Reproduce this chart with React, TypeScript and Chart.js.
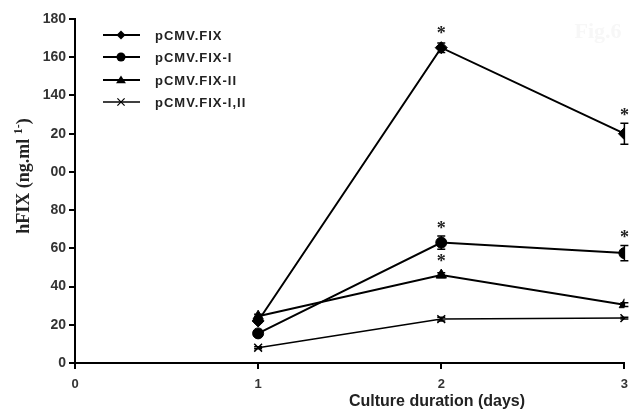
import React, { useEffect, useRef } from "react";
import { Chart, registerables } from "chart.js";

Chart.register(...registerables);

const days = [1, 2, 3];
const seriesLabels = ["pCMV.FIX", "pCMV.FIX-I", "pCMV.FIX-II", "pCMV.FIX-I,II"];
const fix = [22, 165, 120];
const fixI = [15.5, 63, 57.5];
const fixII = [24.5, 46, 30.5];
const fixIII = [8, 23, 23.5];
const fixErr = [1, 2.5, 5.5];
const fixIErr = [1, 3.5, 4];
const fixIIErr = [1, 1.2, 1];
const fixIIIErr = [0.5, 1, 0.5];
const fixStar = [false, true, true];
const fixIStar = [false, true, true];
const fixIIStar = [false, true, false];
const fixIIIStar = [false, false, false];
const yTickLabels = ["0", "20", "40", "60", "80", "00", "20", "140", "160", "180"];
const xTickLabels = ["0", "1", "2", "3"];
const yTitleMain = "hFIX (ng.ml ";
const yTitleSup = "1-";
const yTitleEnd = ")";
const xTitle = "Culture duration (days)";
const watermark = "Fig.6";

const pointStyles = ["rectRot", "circle", "triangle", "crossRot"];
const seriesValues = [fix, fixI, fixII, fixIII];
const seriesErrors = [fixErr, fixIErr, fixIIErr, fixIIIErr];
const seriesStars = [fixStar, fixIStar, fixIIStar, fixIIIStar];

function drawPointLocal(ctx: CanvasRenderingContext2D, style: string, x: number, y: number, r: number) {
  ctx.beginPath();
  if (style === "rectRot") {
    ctx.moveTo(x, y - r);
    ctx.lineTo(x + r, y);
    ctx.lineTo(x, y + r);
    ctx.lineTo(x - r, y);
    ctx.closePath();
    ctx.fill();
  } else if (style === "circle") {
    ctx.arc(x, y, r, 0, Math.PI * 2);
    ctx.fill();
  } else if (style === "triangle") {
    ctx.moveTo(x, y - r);
    ctx.lineTo(x + r * 1.1, y + r * 0.7);
    ctx.lineTo(x - r * 1.1, y + r * 0.7);
    ctx.closePath();
    ctx.fill();
  } else {
    const d = r * 0.8;
    ctx.moveTo(x - d, y - d);
    ctx.lineTo(x + d, y + d);
    ctx.moveTo(x + d, y - d);
    ctx.lineTo(x - d, y + d);
    ctx.stroke();
  }
}

const overlayPlugin = {
  id: "overlay",
  afterDatasetsDraw(chart: any) {
    const ctx = chart.ctx;
    const xs = chart.scales.x;
    const ys = chart.scales.y;
    ctx.save();
    // watermark
    ctx.fillStyle = "#f7f7f7";
    ctx.font = "bold 22px 'Liberation Serif', serif";
    ctx.textAlign = "center";
    ctx.textBaseline = "middle";
    ctx.fillText(watermark, 598, 32);
    // error bars and stars
    ctx.strokeStyle = "#000";
    ctx.lineWidth = 1.5;
    seriesValues.forEach((vals, si) => {
      vals.forEach((v, i) => {
        const e = seriesErrors[si][i];
        const x = xs.getPixelForValue(days[i]);
        const yt = ys.getPixelForValue(v + e);
        const yb = ys.getPixelForValue(v - e);
        ctx.beginPath();
        ctx.moveTo(x, yt);
        ctx.lineTo(x, yb);
        ctx.moveTo(x - 4, yt);
        ctx.lineTo(x + 4, yt);
        ctx.moveTo(x - 4, yb);
        ctx.lineTo(x + 4, yb);
        ctx.stroke();
        if (seriesStars[si][i]) {
          ctx.fillStyle = "#222";
          ctx.font = "bold 18px 'Liberation Serif', serif";
          ctx.textAlign = "center";
          ctx.textBaseline = "middle";
          ctx.fillText("*", x, Math.min(yt, ys.getPixelForValue(v) - 6) - 7);
        }
      });
    });
    // legend
    const rows = [35, 57, 80, 102];
    chart.data.datasets.forEach((ds: any, i: number) => {
      const y = rows[i];
      ctx.strokeStyle = "#000";
      ctx.lineWidth = ds.borderWidth;
      ctx.beginPath();
      ctx.moveTo(103, y);
      ctx.lineTo(140, y);
      ctx.stroke();
      ctx.fillStyle = "#000";
      ctx.lineWidth = 1.2;
      drawPointLocal(ctx, pointStyles[i], 121, y, 4.5);
      ctx.fillStyle = "#222";
      ctx.font = "bold 13px Arial, 'Liberation Sans', sans-serif";
      (ctx as any).letterSpacing = "1px";
      ctx.textAlign = "left";
      ctx.textBaseline = "middle";
      ctx.fillText(ds.label, 155, y + 1);
      (ctx as any).letterSpacing = "0px";
    });
    // x title
    ctx.fillStyle = "#222";
    ctx.font = "bold 16px Arial, 'Liberation Sans', sans-serif";
    ctx.textAlign = "center";
    ctx.textBaseline = "middle";
    ctx.fillText(xTitle, 437, 402);
    // y title (rotated)
    ctx.translate(23, 176);
    ctx.rotate(-Math.PI / 2);
    const mainFont = "bold 18px 'Liberation Serif', 'Times New Roman', serif";
    const supFont = "bold 12px 'Liberation Serif', 'Times New Roman', serif";
    ctx.font = mainFont;
    const w1 = ctx.measureText(yTitleMain).width;
    const w3 = ctx.measureText(yTitleEnd).width;
    ctx.font = supFont;
    const w2 = ctx.measureText(yTitleSup).width;
    const total = w1 + w2 + w3;
    let cx = -total / 2;
    ctx.textAlign = "left";
    ctx.textBaseline = "alphabetic";
    ctx.font = mainFont;
    ctx.fillText(yTitleMain, cx, 6);
    cx += w1;
    ctx.font = supFont;
    ctx.fillText(yTitleSup, cx, -1);
    cx += w2;
    ctx.font = mainFont;
    ctx.fillText(yTitleEnd, cx, 6);
    ctx.restore();
  },
};

export default function App() {
  const ref = useRef<HTMLCanvasElement>(null);
  useEffect(() => {
    if (!ref.current) return;
    const datasets = seriesValues.map((vals, i) => ({
      label: seriesLabels[i],
      data: vals.map((v, j) => ({ x: days[j], y: v })),
      borderColor: "#000",
      backgroundColor: "#000",
      borderWidth: i === 3 ? 1.5 : 2,
      pointStyle: pointStyles[i],
      pointRadius: i === 0 ? 6 : i === 2 ? 6 : 5.5,
      pointBorderWidth: i === 3 ? 1.5 : 1,
      pointBackgroundColor: "#000",
      pointBorderColor: "#000",
      tension: 0,
    }));
    const chart = new Chart(ref.current, {
      type: "line",
      data: { datasets },
      plugins: [overlayPlugin],
      options: {
        animation: false,
        responsive: false,
        devicePixelRatio: 1,
        layout: { padding: { top: 19, right: 6, left: 0, bottom: 0 } },
        plugins: { legend: { display: false }, tooltip: { enabled: false } },
        scales: {
          x: {
            type: "linear",
            min: 0,
            max: 3,
            afterFit: (s: any) => { s.height = 49; },
            ticks: {
              stepSize: 1,
              padding: 8,
              color: "#333",
              font: { family: "Arial, 'Liberation Sans', sans-serif", size: 13, weight: "bold" },
              callback: (v: any, i: number) => xTickLabels[i],
            },
            grid: { display: true, drawOnChartArea: false, drawTicks: true, tickLength: 6, color: "#000", lineWidth: 2 },
            border: { display: true, color: "#000", width: 2 },
            title: { display: false },
          },
          y: {
            type: "linear",
            min: 0,
            max: 180,
            afterFit: (s: any) => { s.width = 75; },
            ticks: {
              stepSize: 20,
              padding: 3,
              color: "#333",
              font: { family: "Arial, 'Liberation Sans', sans-serif", size: 14, weight: "bold" },
              callback: (v: any, i: number) => yTickLabels[i],
            },
            grid: { display: true, drawOnChartArea: false, drawTicks: true, tickLength: 6, color: "#000", lineWidth: 2 },
            border: { display: true, color: "#000", width: 2 },
            title: { display: false },
          },
        },
      } as any,
    });
    return () => chart.destroy();
  }, []);
  return (
    <div style={{ position: "fixed", left: 0, top: 0, width: 636, height: 412, background: "#fff" }}>
      <canvas ref={ref} width={636} height={412} />
    </div>
  );
}
